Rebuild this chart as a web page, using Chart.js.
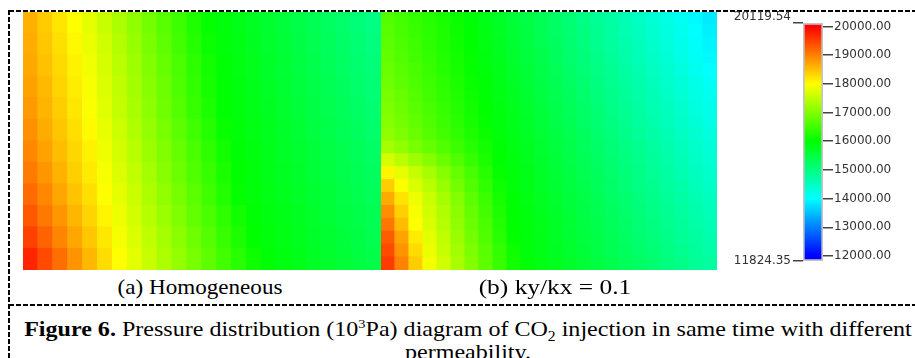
<!DOCTYPE html>
<html>
<head>
<meta charset="utf-8">
<script src="https://cdn.jsdelivr.net/npm/chart.js@4.4.0/dist/chart.umd.min.js"></script>
<style>
    body {
        margin: 0;
        width: 915px;
        height: 358px;
        overflow: hidden;
        background: #fff;
        position: relative;
        font-family: "Liberation Serif", "Times New Roman", serif;
        color: #000;
    }
    .abs { position: absolute; }
    .dash_h { height: 2px; background: repeating-linear-gradient(to right, #000 0 5px, transparent 5px 7px); }
    .dash_v { width: 2px; background: repeating-linear-gradient(to bottom, #000 0 5px, transparent 5px 7px); }
    .sub_caption { font-size: 21px; line-height: 22px; white-space: nowrap; width: 300px; text-align: center; }
    .caption { font-size: 21px; line-height: 22.5px; white-space: nowrap; text-align: center; transform: scaleX(1.145); transform-origin: 50% 0; }
</style>
</head>
<body>
<div class="abs dash_h" style="left:9px; top:10px; width:906px;"></div>
<div class="abs dash_h" style="left:9px; top:304px; width:906px;"></div>
<div class="abs dash_v" style="left:8px; top:10px; height:348px;"></div>

<canvas id="chart_homogeneous" class="abs" style="left:23px; top:12px;" width="358" height="258"></canvas>
<canvas id="chart_anisotropic" class="abs" style="left:381px; top:12px;" width="336" height="258"></canvas>
<canvas id="chart_colorbar" class="abs" style="left:720px; top:0px;" width="195" height="290"></canvas>

<div class="abs sub_caption" style="left:50px; top:276px; transform:scaleX(1.1);">(a) Homogeneous</div>
<div class="abs sub_caption" style="left:405px; top:276px; transform:scaleX(1.21);">(b) ky/kx = 0.1</div>
<div class="abs caption" style="left:10px; top:318px; width:916px;"><b>Figure 6.</b> Pressure distribution (10<sup style="font-size:0.6em; line-height:0;">3</sup>Pa) diagram of CO<sub style="font-size:0.65em; line-height:0;">2</sub> injection in same time with different<br>permeability.</div>

<script>
// pressure, rows listed top to bottom, columns left to right
var homogeneous_rows = [
    [18610,18400,18200,18000,17780,17560,17340,17130,16910,16690,16470,16250,16040,15920,15830,15730,15630,15540,15440,15350,15250,15160,15060,14970],
    [18640,18440,18250,18050,17840,17620,17400,17180,16960,16740,16520,16300,16080,15940,15850,15750,15660,15570,15470,15380,15290,15190,15100,15010],
    [18680,18490,18300,18100,17900,17670,17450,17230,17010,16790,16570,16350,16130,15960,15870,15780,15690,15600,15500,15410,15320,15230,15140,15050],
    [18730,18540,18340,18140,17940,17720,17500,17280,17060,16840,16610,16390,16170,15980,15890,15800,15710,15620,15530,15440,15350,15260,15170,15080],
    [18790,18590,18390,18190,17980,17760,17540,17320,17100,16880,16660,16440,16220,16000,15910,15820,15740,15650,15560,15470,15390,15300,15210,15120],
    [18860,18650,18450,18250,18040,17820,17600,17380,17160,16940,16720,16500,16280,16060,15940,15850,15770,15680,15600,15510,15430,15340,15260,15170],
    [18940,18730,18520,18310,18100,17880,17660,17440,17220,17010,16790,16570,16350,16130,15960,15880,15800,15710,15630,15550,15460,15380,15300,15210],
    [19040,18820,18600,18380,18160,17940,17720,17510,17290,17070,16850,16630,16420,16200,15990,15910,15830,15750,15670,15590,15500,15420,15340,15260],
    [19160,18930,18700,18470,18250,18010,17800,17580,17360,17140,16930,16710,16490,16270,16050,15940,15860,15780,15700,15620,15540,15460,15380,15300],
    [19310,19060,18820,18570,18330,18080,17860,17640,17430,17210,17000,16780,16570,16350,16140,15970,15890,15820,15740,15660,15580,15500,15430,15350],
    [19490,19230,18960,18700,18440,18180,17930,17720,17500,17290,17080,16860,16650,16440,16220,16010,15930,15850,15770,15700,15620,15540,15470,15390],
    [19710,19420,19130,18840,18560,18270,17990,17780,17570,17360,17150,16940,16730,16520,16310,16100,15960,15880,15810,15730,15660,15580,15500,15430]
];

var anisotropic_rows = [
    [16640,16530,16410,16300,16190,16070,15950,15830,15700,15580,15460,15330,15210,15080,14960,14840,14710,14590,14460,14340,14210,14090,13970,13840],
    [16680,16560,16440,16330,16210,16090,15970,15850,15730,15600,15480,15360,15230,15110,14990,14860,14740,14620,14500,14370,14250,14130,14000,13880],
    [16720,16600,16480,16350,16230,16110,15990,15870,15750,15620,15500,15380,15260,15140,15020,14890,14770,14650,14530,14410,14290,14160,14040,13920],
    [16770,16640,16520,16390,16270,16140,16020,15890,15770,15650,15530,15410,15290,15170,15050,14930,14810,14690,14560,14440,14320,14200,14080,13960],
    [16820,16690,16560,16430,16300,16170,16040,15920,15800,15680,15560,15440,15320,15200,15090,14970,14850,14730,14610,14490,14370,14250,14130,14010],
    [16860,16730,16600,16470,16340,16200,16070,15950,15830,15710,15590,15470,15360,15240,15120,15000,14890,14770,14650,14530,14410,14300,14180,14060],
    [16920,16790,16650,16510,16380,16240,16100,15970,15860,15740,15620,15510,15390,15270,15160,15040,14920,14810,14690,14570,14460,14340,14220,14110],
    [16980,16840,16700,16560,16420,16280,16140,16000,15880,15770,15650,15540,15420,15310,15190,15080,14960,14850,14730,14620,14500,14390,14270,14160],
    [17050,16900,16760,16610,16460,16320,16170,16030,15910,15800,15680,15570,15450,15340,15230,15110,15000,14890,14770,14660,14550,14430,14320,14210],
    [17120,16970,16820,16670,16520,16370,16220,16070,15940,15830,15720,15600,15490,15380,15270,15150,15040,14930,14820,14710,14590,14480,14370,14260],
    [17300,17130,16960,16800,16630,16460,16290,16130,15970,15860,15750,15640,15530,15420,15310,15200,15080,14970,14860,14750,14640,14530,14420,14310],
    [17670,17460,17250,17040,16830,16620,16410,16200,16000,15890,15780,15670,15560,15450,15340,15230,15120,15010,14900,14790,14680,14570,14460,14350],
    [18080,17800,17550,17300,17050,16800,16550,16300,16050,15910,15810,15700,15590,15480,15370,15270,15160,15050,14940,14840,14730,14620,14510,14400],
    [18390,17980,17710,17450,17180,16910,16640,16380,16110,15940,15830,15720,15620,15510,15410,15300,15190,15090,14980,14880,14770,14660,14560,14450],
    [18650,18210,17860,17580,17300,17020,16730,16450,16170,15960,15860,15750,15650,15540,15440,15340,15230,15130,15020,14920,14810,14710,14610,14500],
    [18880,18380,17940,17650,17370,17090,16800,16520,16230,15980,15880,15780,15680,15570,15470,15370,15270,15170,15060,14960,14860,14760,14650,14550],
    [19070,18530,18000,17710,17420,17140,16850,16570,16280,16000,15900,15800,15700,15600,15500,15400,15300,15200,15100,15000,14900,14800,14700,14600],
    [19280,18720,18160,17790,17500,17200,16910,16620,16330,16030,15910,15820,15720,15620,15520,15430,15330,15230,15140,15040,14940,14840,14750,14650],
    [19420,18850,18280,17850,17560,17270,16970,16680,16390,16100,15940,15840,15750,15650,15560,15460,15360,15270,15170,15080,14980,14890,14790,14700],
    [19540,18970,18400,17910,17620,17320,17030,16730,16430,16140,15950,15860,15770,15670,15580,15490,15400,15300,15210,15120,15020,14930,14840,14750]
];

var colorbar_ticks = [12000, 13000, 14000, 15000, 16000, 17000, 18000, 19000, 20000];
var colorbar_min = 11824.35;
var colorbar_max = 20119.54;
var colormap_low = 12000;   // blue
var colormap_high = 20000;  // red

function value_color(v) {
    var hue = (colormap_high - v) / (colormap_high - colormap_low) * 240;
    hue = Math.max(0, Math.min(240, hue));
    return 'hsl(' + hue.toFixed(1) + ', 100%, 50%)';
}

function init_chart_heatmap(canvas_id, rows) {
    var labels = rows[0].map(function (v, i) { return i; });
    // stacked bars start at the bottom, so the last row goes first
    var datasets = rows.slice().reverse().map(function (row) {
        return {
            data: row.map(function () { return 1; }),
            backgroundColor: row.map(value_color),
            borderWidth: 0,
            inflateAmount: 0.6,
            barPercentage: 1,
            categoryPercentage: 1
        };
    });

    var chart_heatmap_settings = {
        type: 'bar',
        data: { labels: labels, datasets: datasets },
        options: {
            responsive: false,
            animation: false,
            layout: { padding: 0 },
            plugins: { legend: { display: false }, tooltip: { enabled: false } },
            scales: {
                x: { display: false, stacked: true },
                y: { display: false, stacked: true, min: 0, max: rows.length }
            }
        }
    };
    return new Chart(document.getElementById(canvas_id), chart_heatmap_settings);
}

function colorbar_gradient(context) {
    var chart = context.chart;
    var area = chart.chartArea;
    if (!area) {
        return value_color(16000);
    }
    var scale = chart.scales.y;
    var grad = chart.ctx.createLinearGradient(0, scale.getPixelForValue(colorbar_min), 0, scale.getPixelForValue(colorbar_max));
    var stops = [colorbar_min].concat(colorbar_ticks.filter(function (v, i) { return i % 2 === 0; }), [colorbar_max]);
    stops.forEach(function (v) {
        grad.addColorStop((v - colorbar_min) / (colorbar_max - colorbar_min), value_color(v));
    });
    return grad;
}

function init_chart_colorbar() {
    var label_font = { family: '"DejaVu Sans", Verdana, sans-serif', size: 12 };
    var chart_colorbar_settings = {
        type: 'bar',
        data: {
            labels: [''],
            datasets: [{
                data: [[colorbar_min, colorbar_max]],
                backgroundColor: colorbar_gradient,
                borderColor: '#c3c3c3',
                borderWidth: 2,
                borderSkipped: false,
                barPercentage: 1,
                categoryPercentage: 1
            }]
        },
        options: {
            responsive: false,
            animation: false,
            layout: { padding: { top: 23, bottom: 29, left: 0, right: 0 } },
            plugins: { legend: { display: false }, tooltip: { enabled: false } },
            scales: {
                x: { display: false },
                y: {
                    position: 'right',
                    min: colorbar_min,
                    max: colorbar_max,
                    afterBuildTicks: function (scale) {
                        scale.ticks = colorbar_ticks.map(function (v) { return { value: v }; });
                    },
                    afterFit: function (scale) { scale.width = 92; },
                    ticks: {
                        color: '#333',
                        font: label_font,
                        padding: 1,
                        callback: function (v) { return Number(v).toFixed(2); }
                    },
                    grid: { drawOnChartArea: false, tickLength: 10, color: '#444', lineWidth: 1.5 },
                    border: { display: false }
                },
                y_range: {
                    position: 'left',
                    min: colorbar_min,
                    max: colorbar_max,
                    afterBuildTicks: function (scale) {
                        scale.ticks = [{ value: colorbar_min }, { value: colorbar_max }];
                    },
                    afterFit: function (scale) { scale.width = 83; },
                    ticks: {
                        color: '#333',
                        font: { family: label_font.family, size: 12, lineHeight: 1.0 },
                        padding: 2,
                        callback: function (v) {
                            var txt = Number(v).toFixed(2);
                            return v === colorbar_max ? [txt, ''] : txt;
                        }
                    },
                    grid: { drawOnChartArea: false, tickLength: 10, color: '#444', lineWidth: 1.5 },
                    border: { display: false }
                }
            }
        }
    };
    return new Chart(document.getElementById('chart_colorbar'), chart_colorbar_settings);
}

init_chart_heatmap('chart_homogeneous', homogeneous_rows);
init_chart_heatmap('chart_anisotropic', anisotropic_rows);
init_chart_colorbar();
</script>
</body>
</html>
